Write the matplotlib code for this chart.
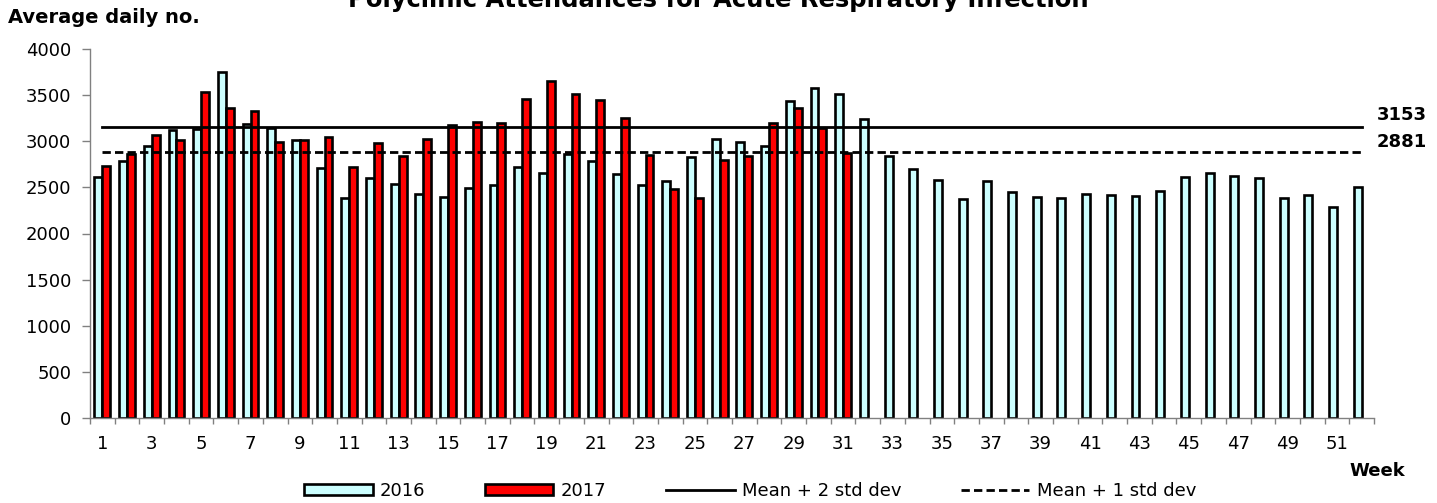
import matplotlib
matplotlib.use("Agg")
import matplotlib.pyplot as plt
from matplotlib.patches import Patch
from matplotlib.lines import Line2D
import numpy as np

weeks = list(range(1, 53))
att_2016 = [2611, 2781, 2952, 3118, 3136, 3747, 3183, 3143, 3009, 2713,
            2387, 2604, 2539, 2423, 2394, 2496, 2525, 2720, 2655, 2857,
            2781, 2640, 2525, 2568, 2825, 3027, 2995, 2944, 3436, 3574,
            3508, 3241, 2839, 2695, 2575, 2376, 2568, 2452, 2391, 2380,
            2423, 2413, 2405, 2463, 2608, 2655, 2626, 2597, 2380, 2413,
            2282, 2499]
att_2017 = [2727, 2865, 3067, 3009, 3530, 3360, 3328, 2995, 3017, 3049,
            2720, 2984, 2843, 3027, 3172, 3212, 3197, 3458, 3650, 3512,
            3447, 3248, 2850, 2481, 2380, 2800, 2839, 3197, 3364, 3143,
            2872]
mean_2sd = 3153
mean_1sd = 2881
xtick_labels = [str(w) for w in range(1, 52, 2)]

plt.rcParams['font.family'] = ['DejaVu Sans']

fig = plt.figure(figsize=(14.37, 5.03), dpi=100)
ax = fig.add_axes([90/1437, 1-418/503, (1374-90)/1437, (418-49)/503])

w = 0.32
x16 = np.array(weeks, dtype=float)
x17 = np.array(weeks[:len(att_2017)], dtype=float)
ax.bar(x16 - w/2, att_2016, width=w, color='#CCFFFF', edgecolor='black', linewidth=1.9, zorder=2)
ax.bar(x17 + w/2, att_2017, width=w, color='#FF0000', edgecolor='black', linewidth=1.9, zorder=2)

ax.plot(weeks, [mean_2sd]*len(weeks), color='black', lw=2, zorder=3)
ax.plot(weeks, [mean_1sd]*len(weeks), color='black', lw=2, ls=(0, (3, 1.5)), zorder=3)

ax.annotate(str(mean_2sd), xy=(1.0, mean_2sd), xycoords=('axes fraction', 'data'),
            xytext=(2, 9), textcoords='offset points', ha='left', va='center',
            fontsize=13, fontweight='bold')
ax.annotate(str(mean_1sd), xy=(1.0, mean_1sd), xycoords=('axes fraction', 'data'),
            xytext=(2, 7.5), textcoords='offset points', ha='left', va='center',
            fontsize=13, fontweight='bold')

ax.set_xlim(0.5, 52.5)
ax.set_ylim(0, 4000)
ax.set_yticks(range(0, 4001, 500))
ax.tick_params(axis='y', length=5.5, width=1, color='#808080', pad=8, labelsize=13)

ax.set_xticks(np.arange(0.5, 53, 1.0))
ax.set_xticklabels([])
ax.tick_params(axis='x', which='major', length=4, width=1, color='#808080')
ax.set_xticks(range(1, 52, 2), minor=True)
ax.set_xticklabels(xtick_labels, minor=True)
ax.tick_params(axis='x', which='minor', length=0, pad=12, labelsize=13)

for s in ['top', 'right']:
    ax.spines[s].set_visible(False)
for s in ['left', 'bottom']:
    ax.spines[s].set_color('#808080')
    ax.spines[s].set_linewidth(1)

fig.text(718.5/1437, 1-7/503, 'Polyclinic Attendances for Acute Respiratory Infection',
         ha='center', va='baseline', fontsize=17.5, fontweight='bold')
fig.text(8/1437, 1-23/503, 'Average daily no.', ha='left', va='baseline',
         fontsize=14, fontweight='bold')
fig.text(1405/1437, 1-476/503, 'Week', ha='right', va='baseline',
         fontsize=13, fontweight='bold')

handles = [Patch(facecolor='#CCFFFF', edgecolor='black', linewidth=1.9),
           Patch(facecolor='#FF0000', edgecolor='black', linewidth=1.9),
           Line2D([], [], color='black', lw=2),
           Line2D([], [], color='black', lw=2, ls=(0, (3, 1.5)))]
fig.legend(handles, ['2016', '2017', 'Mean + 2 std dev', 'Mean + 1 std dev'],
           loc='center', bbox_to_anchor=(750/1437, 1-491/503), ncol=4,
           frameon=False, fontsize=13, handlelength=3.8, handleheight=0.6,
           handletextpad=0.4, columnspacing=3.3, borderpad=0, borderaxespad=0)

fig.savefig('out.png', dpi=100)
